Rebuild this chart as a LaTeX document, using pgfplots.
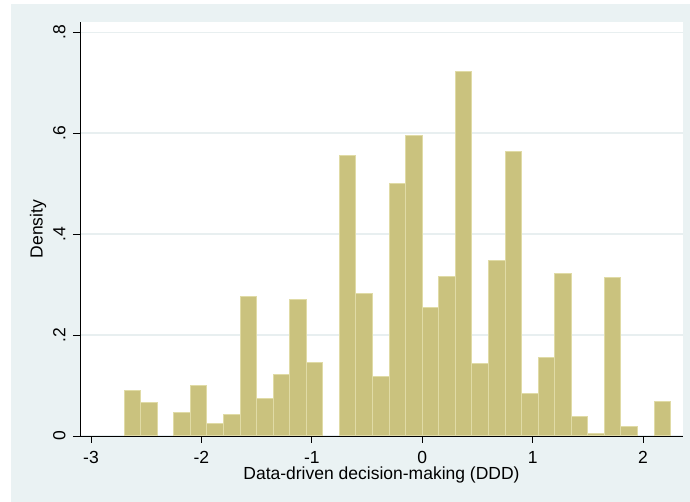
\documentclass[border=0pt]{standalone}
\usepackage{fontspec}
\setmainfont{Liberation Sans}
\usepackage{pgfplots}
\pgfplotsset{compat=1.18}
\definecolor{bg}{RGB}{234,242,243}
\definecolor{barfill}{RGB}{202,194,126}
\definecolor{baredge}{RGB}{224,219,166}
\definecolor{gridc}{RGB}{232,239,240}
\begin{document}
\begin{tikzpicture}[x=1pt,y=1pt]
\fill[white] (0,0) rectangle (690,502);
\fill[bg] (11,0) rectangle (690,498);
\begin{axis}[
  at={(80pt,66pt)}, anchor=south west,
  width=603pt, height=414pt, scale only axis,
  xmin=-3.0996, xmax=2.362, ymin=0, ymax=0.8204,
  axis background/.style={fill=white},
  axis x line*=bottom, axis y line*=left,
  axis line style={-, black, line width=0.8pt},
  xtick={-3,-2,-1,0,1,2},
  xticklabels={-3,-2,-1,0,1,2},
  ytick={0,0.2,0.4,0.6,0.8},
  yticklabels={0,.2,.4,.6,.8},
  tick align=outside, major tick length=7pt,
  tick style={black, line width=0.8pt},
  ymajorgrids, grid style={gridc, line width=1.5pt},
  tick label style={font=\fontsize{17.5}{20}\selectfont},
  label style={font=\fontsize{17.5}{20}\selectfont},
  xticklabel style={yshift=-5pt},
  yticklabel style={xshift=-4pt, rotate=90, anchor=south},
  xlabel={Data-driven decision-making (DDD)},
  xlabel style={at={(axis description cs:0.5,0)}, anchor=base, yshift=-44pt},
  ylabel={Density},
]
\addplot[ybar interval, fill=barfill, draw=baredge, line width=1pt] coordinates {
(-2.70,0.091) (-2.55,0.066) (-2.40,0)};
\addplot[ybar interval, fill=barfill, draw=baredge, line width=1pt] coordinates {
(-2.25,0.047) (-2.10,0.100) (-1.95,0.025) (-1.80,0.043) (-1.65,0.277)
(-1.50,0.075) (-1.35,0.121) (-1.20,0.270) (-1.05,0.146) (-0.90,0)};
\addplot[ybar interval, fill=barfill, draw=baredge, line width=1pt] coordinates {
(-0.75,0.555) (-0.60,0.283) (-0.45,0.118) (-0.30,0.500) (-0.15,0.595)
(0.00,0.254) (0.15,0.317) (0.30,0.723) (0.45,0.143) (0.60,0.347)
(0.75,0.564) (0.90,0.084) (1.05,0.155) (1.20,0.322) (1.35,0.038)
(1.50,0.004) (1.65,0.314) (1.80,0.019) (1.95,0)};
\addplot[ybar interval, fill=barfill, draw=baredge, line width=1pt] coordinates {
(2.10,0.068) (2.25,0)};
\end{axis}
\end{tikzpicture}
\end{document}
